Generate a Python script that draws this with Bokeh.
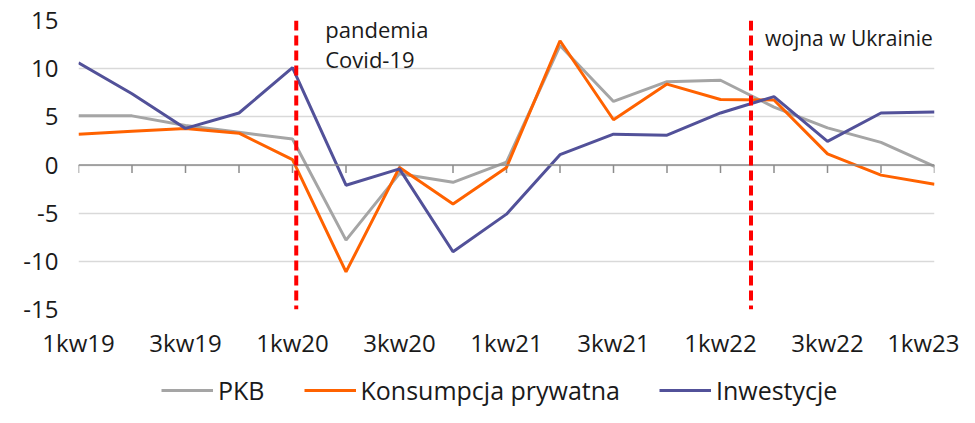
import math
from bokeh.plotting import figure
from bokeh.layouts import column
from bokeh.models import (Range1d, FixedTicker, Legend, LegendItem, Span, Label)
from bokeh.embed import file_html
from bokeh.resources import INLINE

quarters = ["1kw19", "2kw19", "3kw19", "4kw19", "1kw20", "2kw20", "3kw20", "4kw20",
            "1kw21", "2kw21", "3kw21", "4kw21", "1kw22", "2kw22", "3kw22", "4kw22", "1kw23"]
pkb = [5.1, 5.1, 4.1, 3.4, 2.7, -7.8, -0.9, -1.8, 0.3, 12.4, 6.6, 8.65, 8.8, 6.0, 3.85, 2.35, -0.15]
konsumpcja = [3.2, 3.5, 3.8, 3.3, 0.55, -11.1, -0.25, -4.05, -0.25, 12.9, 4.7, 8.4, 6.8, 6.75, 1.15, -1.05, -2.0]
inwestycje = [10.6, 7.4, 3.8, 5.4, 10.1, -2.1, -0.4, -9.0, -5.1, 1.07, 3.2, 3.1, 5.4, 7.1, 2.45, 5.4, 5.5]
series_names = ["PKB", "Konsumpcja prywatna", "Inwestycje"]
event_x = [4.07, 12.57]
event_labels = ["pandemia\nCovid-19", "wojna w Ukrainie"]
y_ticks = [-15, -10, -5, 0, 5, 10, 15]
y_tick_labels = ["-15", "-10", "-5", "0", "5", "10", "15"]
label_every = 2

FONT = "Open Sans"
TXT = "#1a1a1a"
AXIS = "#8c8c8c"
COLORS = ["#a5a5a5", "#ff6200", "#525199"]

x = list(range(len(quarters)))
baseline = [0] * len(quarters)
all_series = [pkb, konsumpcja, inwestycje]

p = figure(width=959, height=361, x_range=Range1d(0, len(quarters) - 1),
           y_range=Range1d(y_ticks[0], y_ticks[-1]),
           output_backend="svg", toolbar_location=None,
           min_border_left=78, min_border_right=25, min_border_top=20, min_border_bottom=52)
p.outline_line_color = None
p.background_fill_color = "white"
p.border_fill_color = "white"

# grid
p.xgrid.visible = False
p.ygrid.ticker = FixedTicker(ticks=y_ticks)
p.ygrid.grid_line_color = "#d9d9d9"
p.ygrid.grid_line_width = 1.5

# y axis
p.yaxis.ticker = FixedTicker(ticks=y_ticks)
p.yaxis.major_label_overrides = dict(zip(y_ticks, y_tick_labels))
p.yaxis.axis_line_color = None
p.yaxis.major_tick_line_color = None
p.yaxis.minor_tick_line_color = None
p.yaxis.major_label_standoff = 14
p.yaxis.major_label_text_font = FONT
p.yaxis.major_label_text_font_size = "24px"
p.yaxis.major_label_text_color = TXT

# x axis labels (bottom)
p.xaxis.ticker = FixedTicker(ticks=x[::label_every])
p.xaxis.major_label_overrides = {i: quarters[i] for i in x}
p.xaxis.axis_line_color = None
p.xaxis.major_tick_line_color = None
p.xaxis.minor_tick_line_color = None
p.xaxis.major_label_standoff = 10
p.xaxis.major_label_text_font = FONT
p.xaxis.major_label_text_font_size = "24px"
p.xaxis.major_label_text_color = TXT

# zero line with category ticks
p.add_layout(Span(location=0, dimension="width", line_color=AXIS, line_width=1.5))
p.ray(x=x, y=baseline, length=8, length_units="screen", angle=-math.pi / 2,
      line_color=AXIS, line_width=1.5)

for ys, c in zip(all_series, COLORS):
    p.line(x, ys, line_color=c, line_width=3)

for ex in event_x:
    p.add_layout(Span(location=ex, dimension="height", line_color="#ff0000",
                      line_width=4, line_dash="10 5"))

p.add_layout(Label(x=event_x[0], y=y_ticks[-1], x_offset=29, y_offset=7,
                   text=event_labels[0], text_baseline="top", text_font=FONT,
                   text_font_size="22px", text_color=TXT, text_line_height=1.0))
p.add_layout(Label(x=event_x[1], y=y_ticks[-1], x_offset=14, y_offset=-3,
                   text=event_labels[1], text_baseline="top", text_font=FONT,
                   text_font_size="21px", text_color=TXT))

# legend in a separate strip below (series drawn out of view; only the legend shows)
lg = figure(width=959, height=46, x_range=Range1d(0, len(quarters) - 1),
            y_range=Range1d(100, 101),
            output_backend="svg", toolbar_location=None,
            x_axis_location=None, y_axis_location=None,
            min_border_left=0, min_border_right=0, min_border_top=0, min_border_bottom=0)
lg.outline_line_color = None
lg.xgrid.visible = False
lg.ygrid.visible = False
items = []
for name, ys, c in zip(series_names, all_series, COLORS):
    r = lg.line(x, ys, line_color=c, line_width=3)
    items.append(LegendItem(label=name, renderers=[r]))
legend = Legend(items=items, orientation="horizontal", location=(83, 0),
                border_line_color=None, background_fill_alpha=0,
                label_text_font=FONT, label_text_font_size="25px", label_text_color=TXT,
                glyph_width=52, label_standoff=5, spacing=39, margin=0, padding=0)
lg.add_layout(legend, "center")

layout = column(p, lg, spacing=0)
open("out.html", "w").write(file_html(layout, INLINE))
